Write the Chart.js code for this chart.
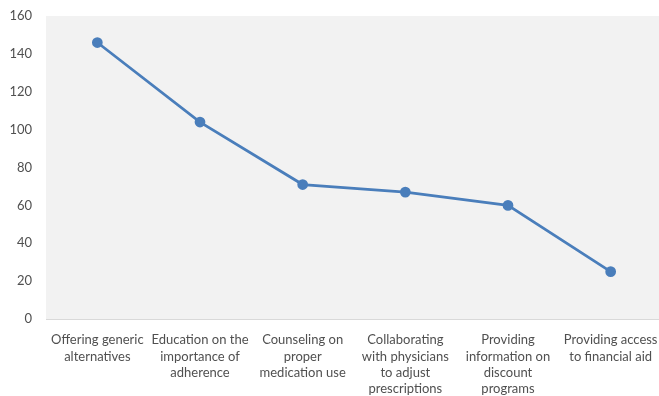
<!DOCTYPE html>
<html>
<head>
<meta charset="utf-8">
<script src="https://cdn.jsdelivr.net/npm/chart.js@4/dist/chart.umd.min.js"></script>
<style>
  html, body { margin: 0; padding: 0; background: #ffffff; }
  #wrap { width: 659px; height: 396px; }
</style>
</head>
<body>
<div id="wrap"><canvas id="chart"></canvas></div>
<script>
// Strategies and how often each was reported
const categories = [
    ['Offering generic', 'alternatives'],
    ['Education on the', 'importance of', 'adherence'],
    ['Counseling on', 'proper', 'medication use'],
    ['Collaborating', 'with physicians', 'to adjust', 'prescriptions'],
    ['Providing', 'information on', 'discount', 'programs'],
    ['Providing access', 'to financial aid']
];
const counts = [146, 104, 71, 67, 60, 25];
const yTicks = [0, 20, 40, 60, 80, 100, 120, 140, 160];

const TEXT_COLOR = '#505050';
const LINE_COLOR = '#4a7ebb';

// grey plot area that runs a few pixels past the right edge
const plotBackground = {
    id: 'plotBackground',
    afterLayout(chart) {
        const x = chart.scales.x;
        x.right += 3;
        x.width += 3;
        chart.chartArea.right += 3;
        chart.chartArea.width += 3;
        x.configure();
    },
    beforeDraw(chart) {
        const { ctx, chartArea } = chart;
        ctx.save();
        ctx.fillStyle = '#f2f2f2';
        ctx.fillRect(chartArea.left, chartArea.top, chartArea.right - chartArea.left, chartArea.bottom - chartArea.top);
        ctx.restore();
    }
};

new Chart(document.getElementById('chart'), {
    type: 'line',
    data: {
        labels: categories,
        datasets: [{
            data: counts,
            borderColor: LINE_COLOR,
            backgroundColor: LINE_COLOR,
            borderWidth: 2.75,
            pointRadius: 4,
            pointHoverRadius: 4,
            tension: 0,
            fill: false
        }]
    },
    options: {
        responsive: true,
        maintainAspectRatio: false,
        animation: false,
        layout: { autoPadding: false, padding: { top: 16, right: 0, bottom: 0, left: 0 } },
        plugins: {
            legend: { display: false },
            tooltip: { enabled: false }
        },
        scales: {
            x: {
                offset: true,
                grid: { display: false, drawTicks: false },
                border: { display: true, color: '#d9d9d9', width: 1 },
                ticks: {
                    autoSkip: false,
                    maxRotation: 0,
                    minRotation: 0,
                    padding: 13,
                    color: TEXT_COLOR,
                    font: { family: 'Lato', size: 13, lineHeight: 1.25 }
                },
                afterFit(scale) {
                    scale.height = 77;
                    scale.paddingLeft = 0;
                    scale.paddingRight = 0;
                }
            },
            y: {
                min: 0,
                max: 160,
                grid: { display: false, drawTicks: false },
                border: { display: false },
                afterBuildTicks(scale) { scale.ticks = yTicks.map(v => ({ value: v })); },
                ticks: {
                    padding: 14,
                    color: TEXT_COLOR,
                    font: { family: 'Lato', size: 13 }
                },
                afterFit(scale) {
                    scale.width = 46;
                    scale.paddingTop = 0;
                    scale.paddingBottom = 0;
                }
            }
        }
    },
    plugins: [plotBackground]
});
</script>
</body>
</html>
